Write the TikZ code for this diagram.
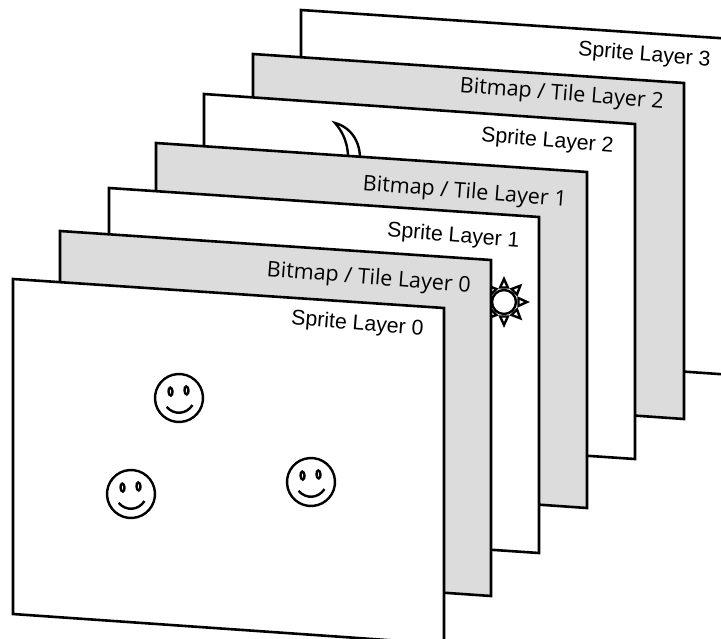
\documentclass[tikz,border=0pt]{standalone}
\usepackage{fontspec}
\setmainfont{Liberation Sans}
\newfontfamily\tilefont{Open Sans}
\usetikzlibrary{calc}
\definecolor{layergray}{HTML}{DCDCDC}
\newcommand{\smiley}[2]{
    \begin{scope}[shift={(#1,#2)}, rotate=4]
        \draw[facepart] (0, 0) circle (24);
        \draw[facepart] (-8, -7) ellipse (2 and 4);
        \draw[facepart] (8, -7) ellipse (2 and 4);
        \draw[facepart] (-13, 8) .. controls (-6, 17) and (6, 17) .. (13, 8);
    \end{scope}
}
\tikzset{
    layer/.style={draw=black, line width=2.6pt, line join=miter},
    spritelayer/.style={layer, fill=white},
    tilelayer/.style={layer, fill=layergray},
    facepart/.style={draw=black, line width=2.4pt},
    spritelabel/.style={anchor=east, rotate=-4.5, font=\fontsize{21.3}{24}\selectfont},
    tilelabel/.style={anchor=east, rotate=-4.5, font=\tilefont\fontsize{21.5}{24}\selectfont},
    sunpart/.style={draw=black, line width=2.4pt, fill=white, line join=miter},
}
\begin{document}
\begin{tikzpicture}[x=1pt, y=-1pt]
        \useasboundingbox (0, 0) rectangle (721, 638);
        \clip (0, 0) rectangle (721, 638);

        \draw[spritelayer] (301, 10) -- (733, 39) -- (733, 375) -- (301, 345) -- cycle;
        \node[spritelabel] (sprite3) at (714, 61) {Sprite Layer 3};

        \draw[tilelayer] (253, 54) -- (684, 83) -- (684, 419) -- (253, 389) -- cycle;
        \node[tilelabel] (tile2) at (667, 103) {Bitmap / Tile Layer 2};

        \draw[spritelayer] (204, 94) -- (635, 124) -- (635, 459) -- (204, 430) -- cycle;
        \node[spritelabel] (sprite2) at (617, 147) {Sprite Layer 2};
        \draw[facepart, fill=white] (335, 123) .. controls (350, 127) and (364, 142) .. (359, 170) -- (348, 170) .. controls (349, 150) and (347, 137) .. cycle;

        \draw[tilelayer] (156, 143) -- (587, 172) -- (587, 508) -- (156, 478) -- cycle;
        \node[tilelabel] (tile1) at (570, 201) {Bitmap / Tile Layer 1};

        \draw[spritelayer] (109, 188) -- (539, 217) -- (539, 553) -- (109, 524) -- cycle;
        \node[spritelabel] (sprite1) at (523, 242) {Sprite Layer 1};
        \foreach \a in {0, 45, ..., 315} {
            \draw[sunpart] ($(504, 302)+(\a:23)$) -- ($(504, 302)+(\a+15:15)$) -- ($(504, 302)+(\a-15:15)$) -- cycle;
        }
        \draw[sunpart] (504, 302) circle (12);

        \draw[tilelayer] (60, 231) -- (491, 260) -- (491, 596) -- (60, 566) -- cycle;
        \node[tilelabel] (tile0) at (474, 287) {Bitmap / Tile Layer 0};

        \draw[spritelayer] (13, 279) -- (444, 308) -- (444, 644) -- (13, 614) -- cycle;
        \node[spritelabel] (sprite0) at (427, 330) {Sprite Layer 0};

        \smiley{179}{398}
        \smiley{131}{494}
        \smiley{311}{482}
    \end{tikzpicture}
\end{document}
